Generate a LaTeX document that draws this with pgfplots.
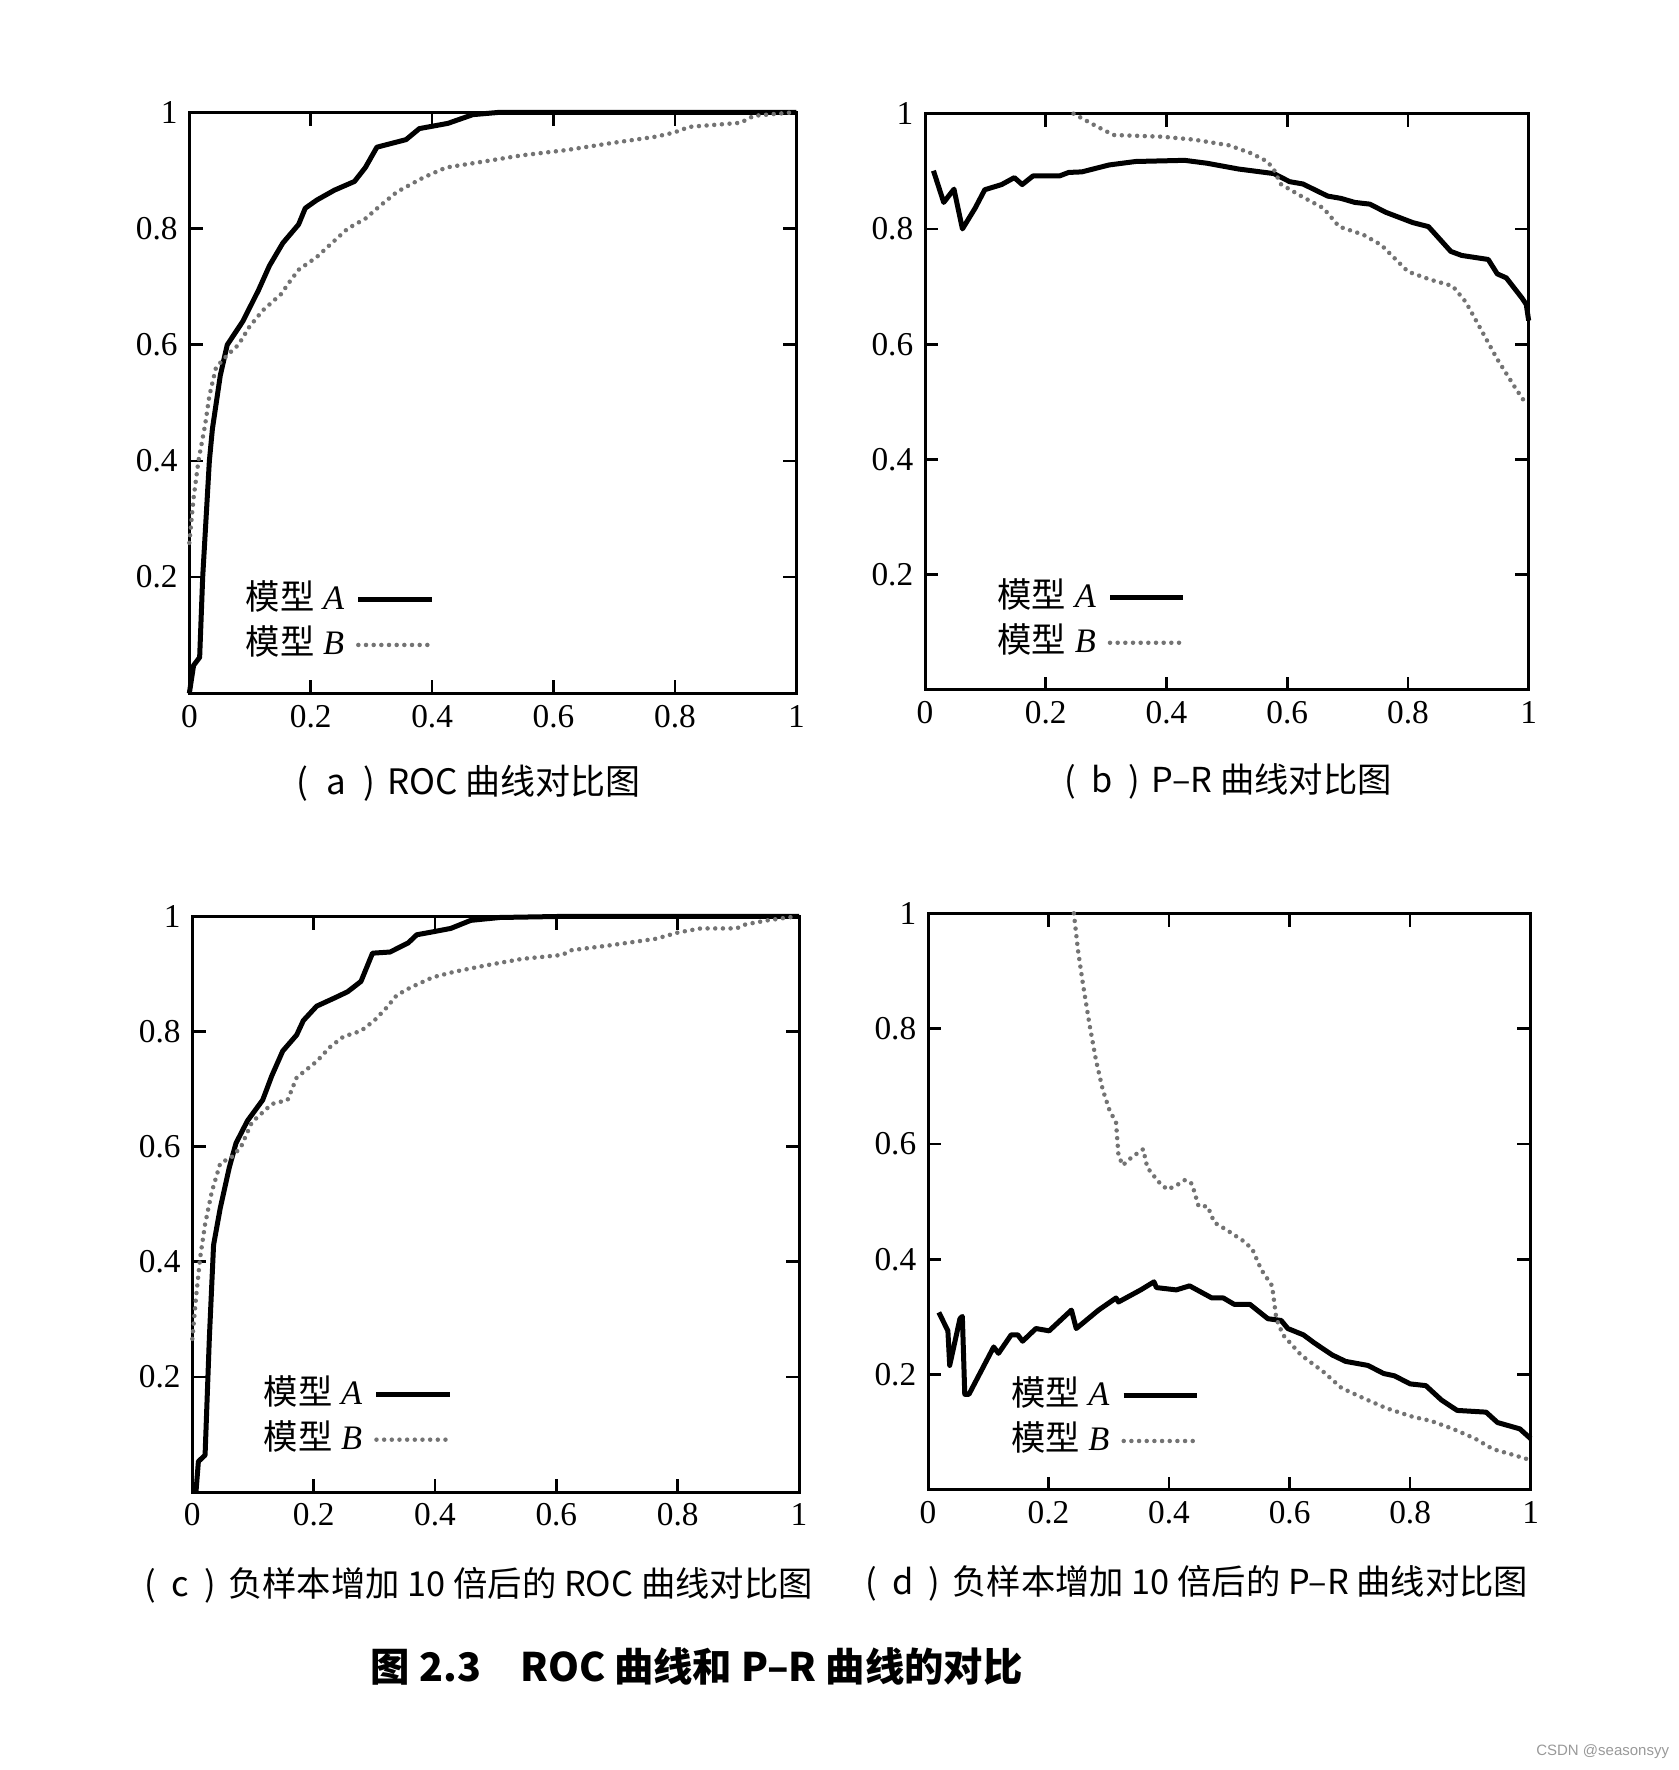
\documentclass[border=0pt]{standalone}
\usepackage{fontspec}
\setmainfont{Liberation Serif}
\newfontfamily\cjk{Noto Sans CJK SC}
\newfontfamily\wmfont{Liberation Sans}
\usepackage{pgfplots}
\pgfplotsset{compat=1.18}
\definecolor{curveBcol}{gray}{0.45}
\pgfplotsset{
  panel/.style={
    scale only axis,
    anchor=south west,
    xmin=0,xmax=1,ymin=0,ymax=1,
    xtick={0,0.2,0.4,0.6,0.8,1},
    xticklabels={0,0.2,0.4,0.6,0.8,1},
    ytick={0.2,0.4,0.6,0.8,1},
    yticklabels={0.2,0.4,0.6,0.8,1},
    tick align=inside,
    major tick length=4pt,
    every tick/.style={black,line width=0.8pt},
    axis line style={line width=0.9pt},
    ticklabel style={font=\fontsize{10}{12}\selectfont},
    clip=false,
    legend plot pos=right,
    legend cell align=left,
    legend image code/.code={\draw[##1] (0pt,0pt) -- (22pt,0pt);},
    legend style={draw=none,fill=none,anchor=west,inner xsep=0pt,inner ysep=0pt,
       nodes={inner sep=0pt, text height=8pt, text depth=2pt}, row sep=3.5pt, column sep=3.5pt,
       font=\fontsize{10.3}{12}\selectfont},
  },
  curveA/.style={black,line width=1.5pt,line join=round},
  curveB/.style={curveBcol,line width=1.35pt,line cap=round,dash pattern=on 0pt off 2.3pt},
}
\begin{document}
\begin{tikzpicture}
\useasboundingbox (0,0) rectangle (503.7pt,531pt);
% (a)
\begin{axis}[panel, at={(56.8pt,323pt)}, width=182.1pt, height=174.3pt, legend style={at={(0.092,0.122)}}]
\addplot[curveA] coordinates {(0,0)(0.007,0.048)(0.017,0.062)(0.022,0.2)(0.033,0.4)(0.038,0.455)(0.051,0.547)(0.0625,0.6)(0.088,0.64)(0.114,0.694)(0.132,0.736)(0.154,0.775)(0.18,0.807)(0.191,0.835)(0.21,0.849)(0.239,0.866)(0.272,0.881)(0.29,0.905)(0.309,0.94)(0.357,0.953)(0.379,0.972)(0.426,0.981)(0.467,0.996)(0.511,1.0)(1,1)};
\addplot[curveB] coordinates {(0,0.259)(0.007,0.336)(0.015,0.40)(0.026,0.462)(0.033,0.512)(0.044,0.561)(0.0625,0.582)(0.081,0.6)(0.099,0.631)(0.121,0.659)(0.151,0.687)(0.165,0.708)(0.18,0.729)(0.21,0.751)(0.239,0.779)(0.261,0.8)(0.29,0.817)(0.313,0.838)(0.342,0.863)(0.386,0.888)(0.423,0.905)(0.489,0.916)(0.548,0.926)(0.621,0.935)(0.695,0.947)(0.768,0.958)(0.798,0.965)(0.824,0.975)(0.908,0.982)(0.93,0.994)(0.996,1.0)};
\legend{{\cjk 模型} \textit{A},{\cjk 模型} \textit{B}}
\end{axis}
% (b)
\begin{axis}[panel, at={(277.5pt,324pt)}, width=181.1pt, height=172.9pt, legend style={at={(0.119,0.121)}}]
\addplot[curveA] coordinates {(0.014,0.901)(0.031,0.846)(0.048,0.869)(0.062,0.800)(0.083,0.836)(0.099,0.868)(0.127,0.877)(0.148,0.889)(0.161,0.877)(0.179,0.892)(0.223,0.892)(0.238,0.898)(0.26,0.899)(0.305,0.911)(0.349,0.917)(0.43,0.919)(0.467,0.914)(0.519,0.904)(0.578,0.896)(0.604,0.882)(0.626,0.878)(0.667,0.857)(0.689,0.853)(0.712,0.846)(0.737,0.843)(0.763,0.829)(0.808,0.811)(0.834,0.804)(0.871,0.761)(0.889,0.754)(0.933,0.747)(0.948,0.722)(0.963,0.715)(0.989,0.68)(0.996,0.669)(1.0,0.641)};
\addplot[curveB] coordinates {(0.246,1.0)(0.279,0.981)(0.312,0.963)(0.393,0.96)(0.445,0.955)(0.504,0.945)(0.541,0.931)(0.567,0.917)(0.578,0.903)(0.589,0.878)(0.623,0.857)(0.66,0.836)(0.686,0.804)(0.726,0.79)(0.756,0.772)(0.8,0.726)(0.837,0.712)(0.874,0.701)(0.896,0.673)(0.926,0.616)(0.948,0.574)(0.978,0.524)(0.996,0.496)};
\legend{{\cjk 模型} \textit{A},{\cjk 模型} \textit{B}}
\end{axis}
% (c)
\begin{axis}[panel, at={(57.7pt,83.4pt)}, width=182pt, height=172.7pt, legend style={at={(0.117,0.130)}}]
\addplot[curveA] coordinates {(0.006,0)(0.01,0.053)(0.021,0.064)(0.028,0.266)(0.035,0.429)(0.046,0.493)(0.061,0.564)(0.072,0.606)(0.091,0.645)(0.116,0.681)(0.131,0.723)(0.149,0.766)(0.172,0.794)(0.183,0.819)(0.205,0.844)(0.234,0.858)(0.256,0.869)(0.278,0.887)(0.297,0.936)(0.326,0.938)(0.356,0.954)(0.37,0.968)(0.396,0.973)(0.426,0.979)(0.459,0.993)(0.507,0.998)(0.617,1.0)(1,1)};
\addplot[curveB] coordinates {(0,0.266)(0.006,0.337)(0.013,0.408)(0.021,0.465)(0.032,0.521)(0.046,0.571)(0.065,0.582)(0.08,0.599)(0.098,0.642)(0.131,0.674)(0.157,0.681)(0.172,0.72)(0.205,0.748)(0.227,0.773)(0.249,0.791)(0.278,0.801)(0.3,0.819)(0.319,0.84)(0.337,0.863)(0.359,0.876)(0.396,0.894)(0.433,0.904)(0.485,0.915)(0.543,0.926)(0.61,0.933)(0.624,0.941)(0.691,0.95)(0.764,0.961)(0.801,0.972)(0.838,0.979)(0.897,0.979)(0.912,0.986)(0.948,0.993)(0.996,1.0)};
\legend{{\cjk 模型} \textit{A},{\cjk 模型} \textit{B}}
\end{axis}
% (d)
\begin{axis}[panel, at={(278.4pt,84pt)}, width=180.8pt, height=173pt, legend style={at={(0.137,0.124)}}]
\addplot[curveA] coordinates {(0.018,0.308)(0.033,0.276)(0.036,0.216)(0.053,0.297)(0.057,0.301)(0.061,0.166)(0.068,0.166)(0.109,0.248)(0.117,0.237)(0.138,0.269)(0.149,0.269)(0.157,0.258)(0.179,0.28)(0.201,0.276)(0.238,0.312)(0.246,0.28)(0.283,0.312)(0.312,0.333)(0.316,0.326)(0.353,0.347)(0.375,0.361)(0.379,0.351)(0.412,0.347)(0.434,0.354)(0.471,0.333)(0.49,0.333)(0.508,0.322)(0.534,0.322)(0.564,0.297)(0.586,0.294)(0.597,0.28)(0.623,0.269)(0.641,0.255)(0.671,0.234)(0.693,0.223)(0.73,0.216)(0.756,0.202)(0.774,0.198)(0.8,0.184)(0.826,0.181)(0.852,0.156)(0.878,0.138)(0.926,0.135)(0.945,0.117)(0.982,0.106)(1.0,0.089)};
\addplot[curveB] coordinates {(0.242,1.0)(0.249,0.935)(0.257,0.878)(0.268,0.807)(0.279,0.744)(0.29,0.694)(0.301,0.659)(0.312,0.637)(0.316,0.581)(0.323,0.563)(0.338,0.577)(0.357,0.591)(0.364,0.559)(0.382,0.535)(0.397,0.521)(0.412,0.528)(0.427,0.538)(0.438,0.531)(0.449,0.492)(0.464,0.492)(0.475,0.464)(0.497,0.45)(0.523,0.432)(0.538,0.418)(0.553,0.382)(0.571,0.354)(0.578,0.297)(0.589,0.269)(0.619,0.234)(0.656,0.205)(0.686,0.177)(0.723,0.159)(0.76,0.142)(0.804,0.127)(0.834,0.12)(0.871,0.106)(0.908,0.089)(0.937,0.071)(0.974,0.06)(0.996,0.053)};
\legend{{\cjk 模型} \textit{A},{\cjk 模型} \textit{B}}
\end{axis}
% captions
\node[font={\cjk\fontsize{10.5}{12}\selectfont}] at (140.6pt,295.9pt) {(\hspace{0.5em}a\hspace{0.5em})\hspace{0.35em}ROC 曲线对比图};
\node[font={\cjk\fontsize{10.3}{12}\selectfont}] at (368.4pt,296.5pt) {(\hspace{0.45em}b\hspace{0.45em})\hspace{0.35em}P–R 曲线对比图};
\node[font={\cjk\fontsize{10.3}{12}\selectfont}] at (143.6pt,55.4pt) {(\hspace{0.45em}c\hspace{0.45em})\hspace{0.35em}负样本增加 10 倍后的 ROC 曲线对比图};
\node[font={\cjk\fontsize{10.3}{12}\selectfont}] at (359pt,56.1pt) {(\hspace{0.45em}d\hspace{0.45em})\hspace{0.35em}负样本增加 10 倍后的 P–R 曲线对比图};
\node[font={\cjk\bfseries\fontsize{11.8}{14}\selectfont}] at (209pt,31pt) {图 2.3\hspace{1em}ROC 曲线和 P–R 曲线的对比};
\node[font={\wmfont\fontsize{4.5}{5}\selectfont}, text=black!40] at (480.8pt,5.4pt) {CSDN @seasonsyy};
\end{tikzpicture}
\end{document}
